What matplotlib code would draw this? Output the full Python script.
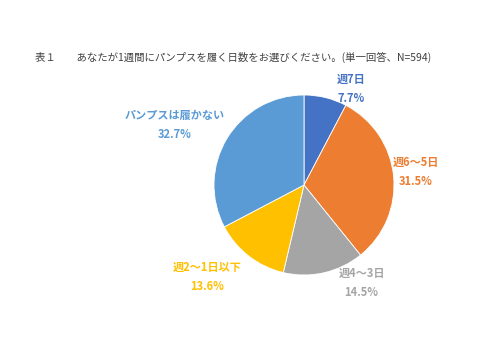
import matplotlib
matplotlib.use("Agg")
import matplotlib.pyplot as plt
import numpy as np

plt.rcParams['font.family'] = ['Noto Sans CJK JP', 'DejaVu Sans']

# data
categories = ['週7日', '週6～5日', '週4～3日', '週2～1日以下', 'パンプスは履かない']
values = [7.7, 31.5, 14.5, 13.6, 32.7]
colors = ['#4472C4', '#ED7D31', '#A5A5A5', '#FFC000', '#5B9BD5']
title = '表１　　あなたが1週間にパンプスを履く日数をお選びください。(単一回答、N=594)'

# label placement (angle in degrees, distance in radii) - layout only
label_pos = [(64, 1.19), (6.5, 1.25), (-59.5, 1.26), (-136.6, 1.48), (155, 1.58)]

W, H = 501, 346
fig = plt.figure(figsize=(W / 100, H / 100), dpi=100)
ax = fig.add_axes([0, 0, 1, 1])

cx, cy, r = 304, 185, 90

ax.pie(values, colors=colors, startangle=90, counterclock=False, radius=1,
       wedgeprops=dict(edgecolor='white', linewidth=0.6))

# pie() resets limits, so set them afterwards
ax.set_xlim(-cx / r, (W - cx) / r)
ax.set_ylim(-(H - cy) / r, cy / r)
ax.set_aspect('equal')
ax.axis('off')

for cat, v, c, (ang, d) in zip(categories, values, colors, label_pos):
    t = np.deg2rad(ang)
    ax.text(d * np.cos(t), d * np.sin(t), f'{cat}\n{v:.1f}%', color=c,
            ha='center', va='center', fontsize=8, fontweight='bold',
            linespacing=1.6)

fig.text(35 / W, 1 - 57 / H, title, fontsize=7.5, color='#404040',
         ha='left', va='center')

fig.savefig('out.png', dpi=100)
